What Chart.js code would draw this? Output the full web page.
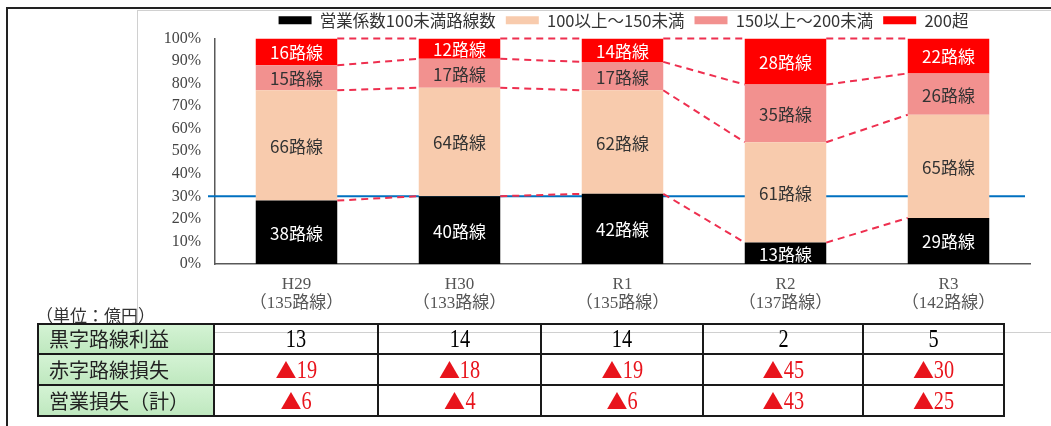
<!DOCTYPE html>
<html>
<head>
<meta charset="utf-8">
<script src="https://cdn.jsdelivr.net/npm/chart.js@4.4.0/dist/chart.umd.min.js"></script>
<style>
  body { margin: 0; background: #fff; }
  #wrap { position: relative; width: 1051px; height: 426px; overflow: hidden; background: #fff; }
  #outer { position: absolute; left: 6px; top: 7px; width: 1100px; height: 500px; border: 2px solid #222; }
  #inner { position: absolute; left: 137px; top: 10px; width: 920px; height: 321px; border: 1px solid #d0d0d0; }
  #chartBox { position: absolute; left: 137px; top: 2px; width: 978px; height: 316px; }
  #unit { position: absolute; left: 36px; top: 302px; font: 17px "Noto Sans CJK JP"; color: #333; }
  table { position: absolute; left: 37px; top: 323px; border-collapse: collapse; table-layout: fixed; }
  td { border: 2px solid #1a1a1a; height: 28px; padding: 0; text-align: center; font: 26px "Liberation Serif"; line-height: 28px; overflow: hidden; }
  td.head { text-align: left; padding-left: 10px; font: 20px "Noto Sans CJK JP"; line-height: 28px; color: #222;
            background: linear-gradient(#d4f3d4, #bfe8bf); }
  .num { display: inline-block; transform: scaleX(0.78); }
  .red { color: #e8141c; }
  .tri { font-family: "Noto Sans CJK JP"; font-size: 21px; }
</style>
</head>
<body>
<div id="wrap">
  <div id="outer"></div>
  <div id="inner"></div>
  <div id="chartBox"><canvas id="routeChart" width="978" height="316"></canvas></div>
  <div id="unit">（単位：億円）</div>
  <table id="lossTable"></table>
</div>
<script>
// 年度と路線数
const years = ['H29', 'H30', 'R1', 'R2', 'R3'];
const totalLabels = ['（135路線）', '（133路線）', '（135路線）', '（137路線）', '（142路線）'];
const routeTotals = [135, 133, 135, 137, 142];

// 営業係数別の路線数
const under100 = [38, 40, 42, 13, 29];
const from100to150 = [66, 64, 62, 61, 65];
const from150to200 = [15, 17, 17, 35, 26];
const over200 = [16, 12, 14, 28, 22];

// 表（億円）
const rowNames = ['黒字路線利益', '赤字路線損失', '営業損失（計）'];
const profit = [13, 14, 14, 2, 5];
const redLoss = [19, 18, 19, 45, 30];
const opLoss = [6, 4, 6, 43, 25];

const toPercent = arr => arr.map((v, i) => v / routeTotals[i] * 100);

const series = [
    { label: '営業係数100未満路線数', counts: under100, color: '#000000', text: '#ffffff' },
    { label: '100以上～150未満', counts: from100to150, color: '#F8CBAD', text: '#333333' },
    { label: '150以上～200未満', counts: from150to200, color: '#F2918F', text: '#333333' },
    { label: '200超', counts: over200, color: '#FF0000', text: '#ffffff' }
];

// 凡例を少し右へ
const legendShift = {
    id: 'legendShift',
    afterLayout(chart) {
        chart.legend.left += 40;
        chart.legend.right += 40;
    }
};

// 30%の青線（棒の後ろ）
const blueLine = {
    id: 'blueLine',
    beforeDatasetsDraw(chart) {
        const { ctx, chartArea, scales } = chart;
        const y = scales.y.getPixelForValue(30);
        ctx.save();
        ctx.strokeStyle = '#0070C0';
        ctx.lineWidth = 2;
        ctx.beginPath();
        ctx.moveTo(chartArea.left - 7, y);
        ctx.lineTo(chartArea.right - 5, y);
        ctx.stroke();
        ctx.restore();
    }
};

// 棒の間の赤い点線とラベル
const barExtras = {
    id: 'barExtras',
    afterDatasetsDraw(chart) {
        const ctx = chart.ctx;
        ctx.save();
        ctx.strokeStyle = '#EE2F4F';
        ctx.lineWidth = 2;
        ctx.setLineDash([7, 5]);
        chart.data.datasets.forEach((ds, d) => {
            const bars = chart.getDatasetMeta(d).data;
            for (let i = 0; i < bars.length - 1; i++) {
                const a = bars[i].getProps(['x', 'y', 'width'], true);
                const b = bars[i + 1].getProps(['x', 'y', 'width'], true);
                ctx.beginPath();
                ctx.moveTo(a.x + a.width / 2, a.y);
                ctx.lineTo(b.x - b.width / 2, b.y);
                ctx.stroke();
            }
        });
        ctx.setLineDash([]);
        ctx.font = '17px "Noto Sans CJK JP"';
        ctx.textAlign = 'center';
        ctx.textBaseline = 'middle';
        chart.data.datasets.forEach((ds, d) => {
            chart.getDatasetMeta(d).data.forEach((bar, i) => {
                const p = bar.getProps(['x', 'y', 'base'], true);
                ctx.fillStyle = series[d].text;
                ctx.fillText(series[d].counts[i] + '路線', p.x, (p.y + p.base) / 2 + 1);
            });
        });
        ctx.restore();
    }
};

const chart = new Chart(document.getElementById('routeChart'), {
    type: 'bar',
    data: {
        labels: years.map((y, i) => [y, totalLabels[i]]),
        datasets: series.map(s => ({
            label: s.label,
            data: toPercent(s.counts),
            backgroundColor: s.color,
            borderWidth: 0,
            categoryPercentage: 1,
            barPercentage: 0.5
        }))
    },
    options: {
        responsive: false,
        devicePixelRatio: 1,
        animation: false,
        layout: { padding: { left: 0, right: 85, top: 0, bottom: 0 } },
        plugins: {
            legend: {
                position: 'top',
                labels: {
                    boxWidth: 33,
                    boxHeight: 8,
                    padding: 10,
                    color: '#333',
                    font: { family: '"Noto Sans CJK JP"', size: 16.5 }
                }
            },
            tooltip: { enabled: false }
        },
        scales: {
            x: {
                stacked: true,
                grid: { display: false },
                border: { color: '#595959', width: 1.5 },
                ticks: {
                    color: '#555',
                    padding: 3,
                    font: { family: '"Liberation Serif", "Noto Sans CJK JP"', size: 17, lineHeight: 1.1 }
                },
                afterFit(scale) { scale.height = 54; }
            },
            y: {
                stacked: true,
                min: 0,
                max: 100,
                grid: { display: false },
                border: { color: '#595959', width: 1.5 },
                ticks: {
                    stepSize: 10,
                    color: '#444',
                    padding: 6,
                    font: { family: '"Liberation Serif"', size: 16 },
                    callback: v => v + '%'
                },
                afterFit(scale) { scale.width = 78; }
            }
        }
    },
    plugins: [legendShift, blueLine, barExtras]
});

// 表の作成
const table = document.getElementById('lossTable');
const colWidths = [176, 164, 163, 162, 160, 141];
const cg = document.createElement('colgroup');
colWidths.forEach(w => {
    const c = document.createElement('col');
    c.style.width = w + 'px';
    cg.appendChild(c);
});
table.appendChild(cg);
const numSpan = v => {
    // 縮めた分の余白を詰める
    const gap = String(v).length * 13 * 0.22 / 2;
    return '<span class="num" style="margin:0 -' + gap.toFixed(1) + 'px">' + v + '</span>';
};
[profit, redLoss, opLoss].forEach((vals, r) => {
    const tr = document.createElement('tr');
    const th = document.createElement('td');
    th.className = 'head';
    th.textContent = rowNames[r];
    tr.appendChild(th);
    vals.forEach(v => {
        const td = document.createElement('td');
        if (r === 0) {
            td.innerHTML = numSpan(v);
        } else {
            td.className = 'red';
            td.innerHTML = '<span class="tri">▲</span>' + numSpan(v);
        }
        tr.appendChild(td);
    });
    table.appendChild(tr);
});
</script>
</body>
</html>
